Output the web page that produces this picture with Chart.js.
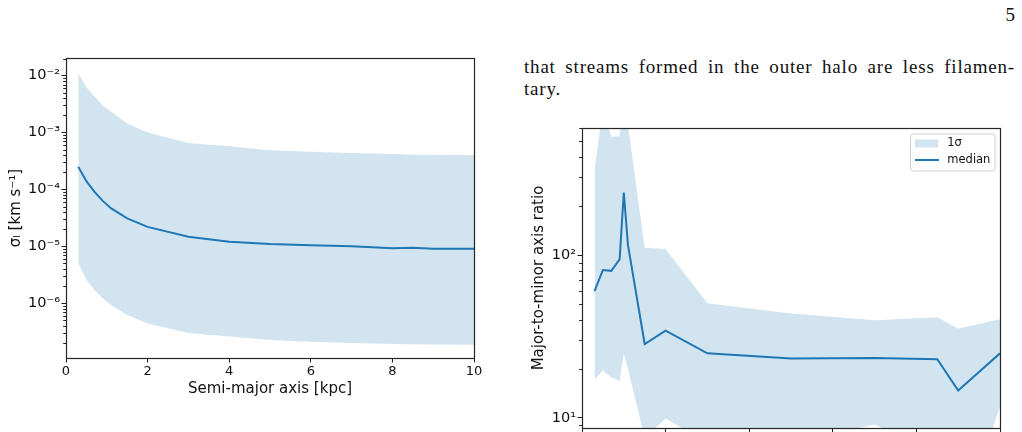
<!DOCTYPE html>
<html><head><meta charset="utf-8">
<script src="https://cdn.jsdelivr.net/npm/chart.js@4.4.1/dist/chart.umd.min.js"></script>
<style>
html,body{margin:0;padding:0;background:#fff;width:1022px;height:432px;overflow:hidden;position:relative}
#c1{position:absolute;left:0;top:0}
#c2{position:absolute;left:500px;top:0}
.txt{position:absolute;font-family:"Liberation Serif","Times New Roman",serif;font-size:19px;color:#111;line-height:22px;white-space:nowrap;letter-spacing:0.8px}
#pg{right:7px;top:4px;letter-spacing:0}
#l1{left:524px;top:56px;width:491px;text-align:justify;text-align-last:justify;white-space:normal}
#l2{left:524px;top:78px}
</style>
</head><body>
<div class="txt" id="pg">5</div>
<div class="txt" id="l1">that streams formed in the outer halo are less filamen-</div>
<div class="txt" id="l2">tary.</div>
<canvas id="c1" width="500" height="432"></canvas>
<canvas id="c2" width="522" height="432"></canvas>
<script>
// ---------- data ----------
const semiMajorLeft = [0.3,0.5,0.7,0.9,1.1,1.5,2,3,4,5,6,7,8,8.5,9,10];
const sigmaMedian = [2.5e-4,1.4e-4,9.1e-5,6.3e-5,4.7e-5,3.1e-5,2.2e-5,1.48e-5,1.2e-5,1.1e-5,1.05e-5,1.0e-5,9.3e-6,9.5e-6,9.1e-6,9.1e-6];
const sigmaUpper = [1.1e-2,6.3e-3,4.3e-3,3.0e-3,2.35e-3,1.45e-3,1.0e-3,6.6e-4,5.75e-4,4.9e-4,4.6e-4,4.4e-4,4.2e-4,4.1e-4,4.1e-4,4.0e-4];
const sigmaLower = [5.0e-6,2.6e-6,1.7e-6,1.23e-6,9.3e-7,6.2e-7,4.4e-7,3.0e-7,2.6e-7,2.26e-7,2.1e-7,2.0e-7,1.93e-7,1.9e-7,1.88e-7,1.86e-7];

const semiMajorRight = [0.3,0.5,0.7,0.9,1.0,1.1,1.5,2,3,5,7,8.5,9,10];
const ratioMedian = [60,81,80,94,242,115,28.4,34.3,24.9,23.1,23.3,22.9,14.7,24.9];
const ratioUpper = [333,800,533,538,1200,630,111,109,50.5,43.7,39.8,41.4,35.4,40.3];
const ratioLower = [17.1,19.5,17.7,16.9,24.9,20,7.5,9.9,7.0,7.0,9.1,6.0,2.0,11.7];

const xTickValues = [0,2,4,6,8,10];
const leftDecades = [1e-7,1e-6,1e-5,1e-4,1e-3,1e-2];
const rightDecades = [1,10,100];
const leftYRange = [1.09e-7, 2.05e-2];
const rightYRange = [8.65, 604];

const legendLabels = ['1σ','median'];
const leftXTitle = 'Semi-major axis [kpc]';
const leftYTitle = 'σₗ [km s⁻¹]';
const rightYTitle = 'Major-to-minor axis ratio';

// ---------- styles ----------
const C0 = '#1f77b4';
const BAND = 'rgba(31,119,180,0.2)';
const AXC = '#222';
const SUP = {'-':'⁻','0':'⁰','1':'¹','2':'²','3':'³','4':'⁴','5':'⁵','6':'⁶','7':'⁷','8':'⁸','9':'⁹'};
function supLabel(v){
  const e = Math.round(Math.log10(v));
  return '10' + String(e).split('').map(c=>SUP[c]).join('');
}
function isMajor(v){
  const l = Math.log10(v);
  return Math.abs(l - Math.round(l)) < 1e-9;
}
function logTicks(decades, range){
  const out = [];
  decades.forEach(d=>{ for(let k=1;k<10;k++){ const v = +(k*d).toPrecision(6); if(v>=range[0] && v<=range[1]) out.push(v);} });
  return out;
}

const framePlugin = {
  id:'frame',
  afterDraw(chart){
    const {ctx, chartArea:a} = chart;
    const ys = chart.scales.y;
    ctx.save();
    ctx.strokeStyle = AXC; ctx.lineWidth = 1;
    ys.ticks.forEach(t=>{
      if(!isMajor(t.value)){
        const p = Math.round(ys.getPixelForValue(t.value)) + 0.5;
        ctx.beginPath(); ctx.moveTo(a.left-2.8,p); ctx.lineTo(a.left,p); ctx.stroke();
      }
    });
    ctx.lineWidth = 1.2; ctx.strokeStyle = '#262626';
    ctx.strokeRect(Math.round(a.left)+0.5, Math.round(a.top)+0.5, Math.round(a.right-a.left), Math.round(a.bottom-a.top));
    ctx.restore();
  }
};

const legendPlugin = {
  id:'insideLegend',
  afterDraw(chart){
    const {ctx} = chart;
    ctx.save();
    const bx=410.5, by=134, bw=84.5, bh=37;
    ctx.beginPath();
    ctx.roundRect(bx,by,bw,bh,3);
    ctx.fillStyle='rgba(255,255,255,0.8)'; ctx.fill();
    ctx.strokeStyle='#d0d0d0'; ctx.lineWidth=1; ctx.stroke();
    ctx.fillStyle=BAND; ctx.fillRect(415,139.5,23.3,8);
    ctx.strokeStyle=C0; ctx.lineWidth=2;
    ctx.beginPath(); ctx.moveTo(415,160); ctx.lineTo(439,160); ctx.stroke();
    ctx.fillStyle='#111'; ctx.font='11.5px "DejaVu Sans"'; ctx.textBaseline='middle'; ctx.textAlign='left';
    ctx.fillText(legendLabels[0], 447.3, 143.5);
    ctx.fillText(legendLabels[1], 447.3, 160);
    ctx.restore();
  }
};

function makeChart(id, xs, med, up, lo, opts){
  const pts = arr => xs.map((x,i)=>({x, y:arr[i]}));
  return new Chart(document.getElementById(id), {
    type:'line',
    data:{datasets:[
      {label:'median', data:pts(med), borderColor:C0, borderWidth:2, pointRadius:0, fill:false, tension:0},
      {label:'upper', data:pts(up), borderWidth:0, borderColor:'rgba(0,0,0,0)', pointRadius:0, backgroundColor:BAND, fill:'+1', tension:0},
      {label:'lower', data:pts(lo), borderWidth:0, borderColor:'rgba(0,0,0,0)', pointRadius:0, backgroundColor:BAND, fill:false, tension:0}
    ]},
    options:{
      responsive:false, maintainAspectRatio:false, animation:false, devicePixelRatio:1,
      events:[],
      layout:{padding:opts.padding},
      plugins:{legend:{display:false}, tooltip:{enabled:false}},
      scales:{
        x:{type:'linear', min:0, max:10,
          afterBuildTicks(s){ s.ticks = xTickValues.map(v=>({value:v})); },
          afterFit(s){ s.height = opts.xHeight; s.paddingLeft = 0; s.paddingRight = 0; },
          border:{display:false},
          grid:{drawOnChartArea:false, drawTicks:true, tickLength:4.5, color:AXC, lineWidth:1},
          ticks:{display:opts.xLabels, padding:1, color:'#111', font:{family:'DejaVu Sans', size:13}, autoSkip:false, maxRotation:0},
          title:{display:!!opts.xTitle, text:opts.xTitle||'', color:'#111', font:{family:'DejaVu Sans', size:15}, padding:{top:0,bottom:opts.xTitlePad||0}}
        },
        y:{type:'logarithmic', min:opts.yRange[0], max:opts.yRange[1],
          afterBuildTicks(s){ s.ticks = logTicks(opts.decades, opts.yRange).map(v=>({value:v, major:isMajor(v)})); },
          afterFit(s){ s.width = opts.yWidth; s.paddingTop = 0; s.paddingBottom = 0; },
          border:{display:false},
          grid:{drawOnChartArea:false, drawTicks:true, tickLength:4.5, lineWidth:1,
            color: c => (c.tick && isMajor(c.tick.value)) ? AXC : 'rgba(0,0,0,0)'},
          ticks:{padding:1.5, color:'#111', font:{family:'DejaVu Sans', size:14.5}, autoSkip:false,
            callback: v => isMajor(v) ? supLabel(v) : ''},
          title:{display:true, text:opts.yTitle, color:'#111', font:{family:'DejaVu Sans', size:15}, padding:{top:opts.yTitlePad,bottom:0}}
        }
      }
    },
    plugins: opts.plugins
  });
}

makeChart('c1', semiMajorLeft, sigmaMedian, sigmaUpper, sigmaLower, {
  padding:{top:58, right:26, left:0, bottom:0},
  xHeight: 74, yWidth: 66, yRange:leftYRange, decades:leftDecades,
  xLabels:true, xTitle:leftXTitle, xTitlePad:34, yTitle:leftYTitle, yTitlePad:7,
  plugins:[framePlugin]
});
makeChart('c2', semiMajorRight, ratioMedian, ratioUpper, ratioLower, {
  padding:{top:128, right:22, left:0, bottom:0},
  xHeight: 4, yWidth: 82, yRange:rightYRange, decades:rightDecades,
  xLabels:false, xTitle:null, yTitle:rightYTitle, yTitlePad:30,
  plugins:[framePlugin, legendPlugin]
});
</script>
</body></html>
